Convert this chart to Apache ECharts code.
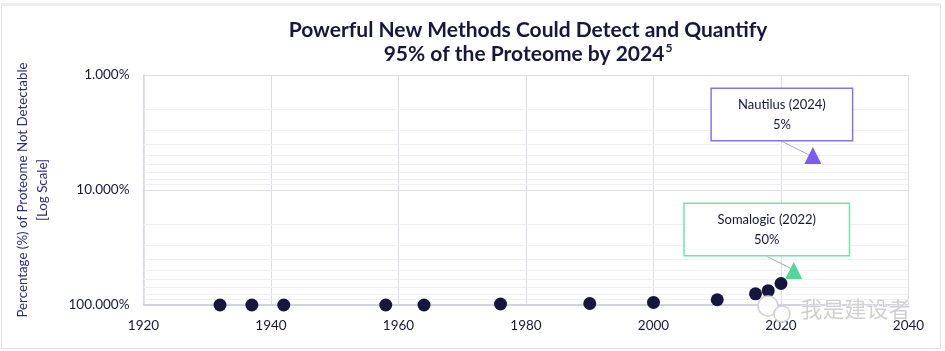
<!DOCTYPE html>
<html>
<head>
<meta charset="utf-8">
<script src="https://cdn.jsdelivr.net/npm/echarts@6/dist/echarts.min.js"></script>
<style>
html, body { margin: 0; padding: 0; background: #fff; }
#card { position: absolute; left: 1px; top: 3px; width: 940px; height: 346px; border: 1px solid #e2e2ea; border-top: 3px solid #ececf1; box-sizing: border-box; }
#main { position: absolute; left: 0; top: 0; width: 945px; height: 351px; }
</style>
</head>
<body>
<div id="card"></div>
<div id="main"></div>
<script>
var titleLines = ["Powerful New Methods Could Detect and Quantify", "95% of the Proteome by 2024"];
var yAxisTitle = ["Percentage (%) of Proteome Not Detectable", "[Log Scale]"];
var xTicks = [1920, 1940, 1960, 1980, 2000, 2020, 2040];
var yTicks = [1, 10, 100];

// historic methods
var dotYears = [1932, 1937, 1942, 1958, 1964, 1976, 1990, 2000, 2010, 2016, 2018, 2020];
var dotValues = [100, 100, 100, 100, 100, 98, 97, 95, 90, 80, 75, 65];

// new methods
var techNames = ["Nautilus (2024)", "Somalogic (2022)"];
var techYears = [2025, 2022];
var techValues = [5, 50];
var techColors = ["#7b5cf0", "#52d69a"];
var techBorders = ["#8a6ff3", "#6fe3b0"];
var techBoxWidths = [140, 164];
var techShift = [[-31, -2], [-27, -2]];

var navy = "#16163f";

// minor log grid lines (2..9 in each decade)
var minorLines = [];
for (var d = 1; d < 100; d *= 10) {
    for (var m = 2; m <= 9; m++) {
        minorLines.push({yAxis: m * d});
    }
}

var dotData = [];
for (var i = 0; i < dotYears.length; i++) {
    dotData.push([dotYears[i], dotValues[i]]);
}

var techData = [];
for (var i = 0; i < techNames.length; i++) {
    techData.push({
        value: [techYears[i], techValues[i]],
        itemStyle: {color: techColors[i]},
        label: {
            show: true,
            position: "top",
            distance: 5,
            formatter: "{a|" + techNames[i] + "}\n{a|" + techValues[i] + "%}",
            backgroundColor: "#fff",
            borderColor: techBorders[i],
            borderWidth: 1.5,
            width: techBoxWidths[i],
            padding: [6, 0, 5, 0],
            align: "center",
            rich: {
                a: {color: navy, fontSize: 13, fontFamily: "Lato", lineHeight: 20, align: "center"}
            }
        }
    });
}

var chart = echarts.init(document.getElementById("main"));
var option = {
    animation: false,
    title: {
        text: titleLines[0] + "\n" + titleLines[1] + "{sup|5}",
        left: 523,
        textAlign: "center",
        top: 13,
        textStyle: {
            color: navy,
            fontSize: 21,
            fontWeight: "bold",
            fontFamily: "Lato",
            lineHeight: 24,
            rich: {
                sup: {color: navy, fontSize: 12, fontWeight: "bold", fontFamily: "Lato", verticalAlign: "top", padding: [0, 0, 8, 1]}
            }
        }
    },
    grid: {left: 143.5, right: 36.5, top: 75, bottom: 46},
    xAxis: {
        type: "value",
        min: xTicks[0],
        max: xTicks[xTicks.length - 1],
        interval: 20,
        axisLine: {show: false},
        axisTick: {show: false},
        axisLabel: {
            color: navy, fontSize: 13.5, fontFamily: "Lato", margin: 14,
            formatter: function (v) { return String(v); }
        },
        splitLine: {show: true, lineStyle: {color: "#dcdce6", width: 1}}
    },
    yAxis: {
        type: "log",
        logBase: 10,
        min: yTicks[0],
        max: yTicks[yTicks.length - 1],
        inverse: true,
        name: yAxisTitle.join("\n"),
        nameLocation: "middle",
        nameGap: 91,
        nameTextStyle: {color: "#2b2b80", fontSize: 13.3, fontFamily: "Lato", lineHeight: 20},
        axisLine: {show: true, lineStyle: {color: "#d6d6e2", width: 1.5}},
        axisTick: {show: false},
        axisLabel: {
            color: navy, fontSize: 13.5, fontFamily: "Lato", margin: 14,
            formatter: function (v) { return v.toFixed(3) + "%"; }
        },
        splitLine: {show: true, lineStyle: {color: "#dcdce6", width: 1}}
    },
    graphic: [
        {type: "text", left: 800, top: 297, silent: true, z: 100,
         style: {text: "我是建设者", fill: "#d0d0d0", stroke: "#ffffff", lineWidth: 1, fontSize: 22, fontFamily: "Noto Sans CJK SC"}},
        {type: "circle", shape: {cx: 768, cy: 306, r: 10}, silent: true, z: 100,
         style: {fill: "rgba(255,255,255,0.85)", stroke: "#d0d0d0", lineWidth: 1.5}},
        {type: "circle", shape: {cx: 782, cy: 314, r: 8}, silent: true, z: 100,
         style: {fill: "rgba(255,255,255,0.85)", stroke: "#d0d0d0", lineWidth: 1.5}}
    ],
    series: [
        {
            type: "line",
            data: [],
            z: 1,
            markLine: {
                silent: true,
                z: 1,
                symbol: "none",
                label: {show: false},
                lineStyle: {color: "#efeff4", width: 1, type: "solid"},
                data: minorLines
            }
        },
        {
            type: "line",
            data: [],
            z: 1,
            markLine: {
                silent: true,
                z: 1,
                symbol: "none",
                label: {show: false},
                lineStyle: {color: "#d3d3df", width: 2, type: "solid"},
                data: [{yAxis: yTicks[yTicks.length - 1]}]
            }
        },
        {
            type: "scatter",
            symbol: "circle",
            symbolSize: 13,
            itemStyle: {color: navy, opacity: 1},
            data: dotData,
            z: 3
        },
        {
            type: "scatter",
            symbol: "triangle",
            symbolSize: 17,
            data: techData,
            itemStyle: {opacity: 1},
            labelLine: {show: true, lineStyle: {color: "#a8a8b8", width: 1}},
            labelLayout: function (params) {
                return {dx: techShift[params.dataIndex][0], dy: techShift[params.dataIndex][1]};
            },
            z: 4
        }
    ]
};
chart.setOption(option);
</script>
</body>
</html>
